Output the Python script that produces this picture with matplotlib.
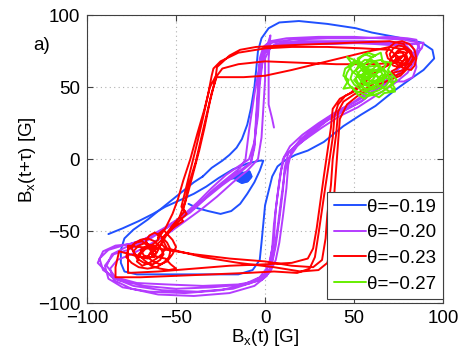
import numpy as np
import matplotlib
matplotlib.use("Agg")
import matplotlib.pyplot as plt

plt.rcParams["font.family"] = ["Liberation Sans", "DejaVu Sans"]
plt.rcParams["axes.unicode_minus"] = True

# theta = -0.19  (blue): big loop, start line + inner loop, small blob
blue_loop = [(-35, -12), (-40, -16), (-48, -24), (-57, -33), (-66, -42), (-74, -49), (-79, -55),
             (-81, -63), (-81, -72), (-79, -78), (-72, -80), (-55, -80), (-35, -80), (-15, -80),
             (-7, -77), (-3, -70), (-2, -58), (-1, -45), (0, -32), (2, -22), (4, -12), (7, -5),
             (11, -1), (17, 3), (24, 6), (33, 12), (44, 23), (54, 31), (62, 37), (73, 48),
             (82, 56), (89, 62), (95, 70), (94, 76), (88, 81), (73, 85), (60, 88), (51, 91),
             (35, 94), (19, 96), (8, 95), (2, 91), (-2, 84), (-4, 75), (-5, 62), (-6, 50),
             (-8, 35), (-10, 24), (-13, 14), (-16, 8), (-20, 3), (-24, -1), (-30, -6), (-35, -12)]
blue_inner = [(-88, -52), (-80, -48), (-71, -43), (-63, -38), (-56, -33), (-47, -28), (-40, -24),
              (-33, -19), (-26, -13), (-18, -7), (-10, -3), (-3, -1), (-1, -1), (-3, -8), (-6, -16),
              (-10, -24), (-14, -31), (-19, -36), (-25, -38), (-32, -36), (-38, -34), (-43, -31)]
blue_blob = [(-19, -13), (-17, -12), (-15, -9), (-12, -10), (-9, -9), (-8, -12), (-10, -15),
             (-13, -16), (-16, -14), (-14, -11), (-11, -10), (-9, -13), (-12, -14), (-15, -12),
             (-13, -12), (-10, -11), (-12, -13)]

# theta = -0.20  (purple)
purple_xy = [(-4, 50), (-3, 70), (-1, 78), (3, 82), (12, 84), (30, 85), (50, 85), (65, 84), (78, 83),
             (86, 81), (87, 76), (84, 68), (80, 60), (72, 52), (62, 44), (52, 36), (42, 30), (32, 22),
             (24, 15), (16, 8), (11, 2), (9, -8), (7, -25), (5, -45), (4, -62), (2, -74), (-3, -82),
             (-12, -87), (-30, -89), (-50, -90), (-68, -88), (-82, -84), (-91, -77), (-93, -69),
             (-88, -63), (-80, -60), (-70, -57), (-60, -51), (-50, -43), (-40, -34), (-31, -24),
             (-22, -15), (-14, -8), (-8, -2), (-6, 10), (-5, 30), (-4, 50),
             (-3, 65), (0, 76), (6, 80), (20, 82), (40, 82), (60, 82), (75, 81), (84, 80), (89, 81),
             (88, 77), (83, 71), (76, 64), (68, 55), (58, 47), (50, 40), (40, 33), (30, 25), (21, 17),
             (14, 9), (10, 0), (8, -15), (6, -35), (5, -55), (3, -70), (0, -80), (-8, -86), (-25, -91),
             (-45, -93), (-65, -92), (-80, -89), (-88, -83), (-90, -74), (-85, -66), (-77, -63),
             (-68, -58), (-58, -50), (-47, -41), (-38, -32), (-29, -21), (-20, -12), (-14, -6),
             (-11, 0), (-9, 20), (-6, 45), (-3, 66),
             (-1, 76), (4, 81), (15, 83), (35, 84), (55, 84), (70, 85), (80, 84), (85, 83), (86, 78),
             (84, 70), (79, 63), (71, 56), (63, 49), (55, 41), (46, 35), (36, 28), (27, 20), (19, 12),
             (13, 4), (11, -6), (10, -22), (8, -42), (6, -60), (4, -72), (1, -81), (-6, -88),
             (-20, -93), (-40, -95), (-60, -94), (-75, -90), (-85, -84), (-87, -76), (-83, -70),
             (-75, -66), (-66, -60), (-56, -53), (-46, -44), (-36, -35), (-27, -26), (-18, -16),
             (-10, -8), (-4, 0), (-2, 15), (-1, 35), (0, 55),
             (0, 70), (3, 78), (10, 81), (25, 81), (45, 81), (62, 80), (74, 79), (82, 80), (84, 75),
             (80, 66), (74, 58), (66, 52), (58, 45), (48, 38), (38, 31), (29, 23), (20, 14), (15, 6),
             (13, -4), (12, -20), (10, -40), (8, -58), (6, -70), (3, -78), (-2, -84), (-15, -87),
             (-35, -88), (-55, -87), (-72, -86), (-84, -82), (-89, -74), (-86, -66), (-78, -61),
             (-70, -58), (-61, -52), (-52, -45), (-42, -37), (-33, -27), (-24, -18), (-15, -10),
             (-8, -3), (-6, 8), (-5, 25), (-4, 45), (-2, 65),
             (0, 74), (5, 79), (18, 80), (38, 80), (58, 81), (72, 80), (80, 78), (84, 72), (85, 64),
             (83, 57), (78, 54), (70, 54), (62, 48), (54, 40), (45, 34), (35, 27), (26, 18), (18, 9),
             (13, 0), (11, -10), (9, -28), (7, -48), (5, -64), (3, -76), (-3, -84), (-18, -90),
             (-38, -92), (-58, -91), (-74, -88), (-86, -82), (-94, -72), (-91, -64), (-84, -60),
             (-76, -59), (-67, -55), (-57, -48), (-47, -40), (-38, -30), (-30, -20), (-22, -11),
             (-15, -5), (-9, 0), (-6, 12), (-4, 30), (-3, 52), (-1, 72), (2, 82), (3, 86), (2, 70),
             (2, 55), (2, 38), (4, 28), (5, 22)]

# theta = -0.23  (red): scribble clusters at both corners joined by square-ish loops
red_left = [(-62, -63), (-66, -60), (-70, -63), (-68, -67), (-64, -68), (-61, -65), (-63, -61),
            (-67, -58), (-71, -60), (-74, -64), (-72, -69), (-68, -72), (-63, -73), (-59, -70),
            (-57, -66), (-59, -61), (-62, -57), (-66, -55), (-70, -56), (-74, -59), (-77, -63),
            (-78, -68), (-75, -72), (-71, -75), (-66, -76), (-61, -75), (-57, -72), (-54, -68),
            (-53, -63), (-55, -58), (-58, -54), (-62, -51), (-65, -53), (-67, -57), (-65, -61),
            (-62, -60), (-60, -63), (-62, -67), (-66, -69), (-70, -68), (-73, -66), (-75, -62),
            (-73, -58), (-69, -57), (-66, -60), (-64, -64), (-66, -68), (-63, -71), (-59, -73),
            (-55, -71), (-52, -66), (-50, -61), (-52, -56), (-55, -52), (-57, -49), (-60, -52),
            (-60, -56), (-63, -59), (-67, -62), (-70, -66), (-72, -71), (-69, -74), (-65, -72),
            (-61, -69), (-58, -66), (-56, -62), (-58, -59), (-61, -62), (-64, -66), (-60, -68),
            (-56, -69), (-53, -73), (-50, -76), (-54, -77), (-59, -76), (-64, -74), (-68, -70),
            (-71, -66), (-68, -62), (-64, -62)]
red_right = [(74, 70), (77, 68), (80, 70), (79, 74), (76, 75), (73, 73), (74, 69), (77, 65), (81, 66),
             (83, 70), (82, 75), (79, 78), (75, 79), (72, 77), (70, 73), (71, 69), (74, 66), (78, 63),
             (82, 62), (84, 65), (85, 70), (84, 76), (81, 80), (77, 82), (73, 81), (70, 78), (68, 74),
             (69, 70), (72, 68), (75, 71), (78, 72), (80, 69), (78, 66), (75, 64), (72, 65), (70, 68),
             (72, 72), (75, 76), (78, 77), (81, 75), (82, 72), (80, 67), (77, 60), (73, 58), (71, 61),
             (74, 63), (77, 67), (79, 71), (77, 74), (74, 74), (72, 71)]
red_loops = [(-62, -68), (-70, -68), (-82, -64), (-84, -75), (-84, -82), (-70, -82), (-50, -81),
             (-30, -80), (-10, -79), (5, -78), (18, -79), (25, -76), (28, -68), (30, -52), (32, -35),
             (34, -18), (36, -2), (38, 15), (39, 30), (41, 38), (45, 44), (50, 47), (55, 52), (62, 60),
             (70, 66), (76, 70), (70, 76), (55, 77), (35, 78), (15, 78), (0, 77), (-15, 74), (-25, 68),
             (-29, 63), (-30, 58), (-32, 45), (-35, 28), (-38, 12), (-41, -3), (-44, -18), (-47, -33),
             (-45, -36), (-52, -46), (-58, -56), (-63, -62),
             (-77, -60), (-77, -70), (-77, -79), (-60, -78), (-40, -76), (-20, -74), (0, -73), (15, -72),
             (24, -69), (27, -62), (29, -48), (31, -30), (33, -12), (35, 5), (37, 22), (38, 35), (42, 42),
             (48, 46), (56, 55), (66, 64), (74, 68), (80, 74), (78, 80), (70, 82), (50, 81), (30, 80),
             (10, 79), (-5, 78), (-14, 76), (-20, 72), (-27, 64), (-28, 55), (-31, 40), (-34, 22),
             (-37, 6), (-40, -8), (-43, -22), (-46, -35), (-44, -38), (-50, -45), (-55, -52),
             (-60, -62), (-40, -66), (-20, -69), (0, -71), (15, -74), (27, -75), (32, -70), (34, -55),
             (35, -38), (37, -18), (38, 0), (40, 18), (41, 33), (44, 40), (50, 45), (58, 50), (65, 56),
             (72, 60), (78, 62), (82, 66), (75, 67), (60, 66), (40, 66), (20, 67), (0, 68), (-15, 66),
             (-24, 63), (-27, 58), (-30, 46), (-33, 30), (-36, 14), (-39, -2), (-43, -18), (-45, -30),
             (-48, -40), (-46, -43), (-52, -48), (-58, -55),
             (-55, -62), (-35, -68), (-15, -72), (5, -75), (20, -78), (30, -77), (35, -72), (37, -60),
             (38, -42), (39, -22), (40, -5), (41, 12), (42, 28), (46, 38), (52, 44), (60, 50), (70, 55),
             (76, 58), (80, 63), (84, 70), (80, 76), (70, 78), (55, 74), (35, 68), (15, 62), (0, 58),
             (-12, 57), (-22, 57), (-28, 57), (-31, 50), (-34, 35), (-38, 18), (-42, 0), (-46, -15),
             (-49, -28), (-52, -38), (-56, -48), (-60, -55)]

# theta = -0.27  (green): noisy cluster only
green_xy = [(58, 56), (61, 59), (64, 57), (62, 53), (58, 52), (55, 55), (56, 60), (60, 62), (65, 61),
            (67, 57), (66, 52), (62, 49), (57, 48), (53, 51), (51, 56), (53, 61), (57, 64), (62, 65),
            (66, 63), (69, 60), (70, 55), (68, 51), (64, 48), (60, 46), (56, 47), (53, 49), (50, 52),
            (48, 56), (49, 60), (52, 63), (55, 66), (59, 68), (63, 67), (65, 64), (63, 60), (60, 58),
            (57, 59), (55, 62), (56, 66), (59, 70), (62, 72), (58, 74), (54, 71), (51, 67), (48, 64),
            (46, 60), (45, 56), (47, 52), (50, 48), (54, 46), (58, 44), (62, 45), (66, 47), (69, 50),
            (72, 53), (71, 57), (68, 59), (65, 58), (63, 55), (60, 54), (57, 56), (55, 59), (52, 58),
            (50, 55), (52, 52), (55, 51), (58, 53), (61, 56), (63, 60), (66, 62), (68, 66), (65, 69),
            (61, 68), (58, 65), (56, 61), (54, 57), (56, 53), (59, 50), (62, 51), (64, 54), (66, 57),
            (69, 56), (71, 53), (73, 49), (70, 47), (66, 50), (63, 52), (60, 50), (57, 51), (54, 54),
            (52, 58), (49, 61), (47, 65), (50, 68), (53, 65), (55, 61), (58, 59), (61, 61), (64, 63),
            (67, 61), (68, 57), (65, 54), (61, 53), (58, 55), (56, 58), (58, 61), (61, 63), (63, 66),
            (60, 69), (56, 69), (53, 66), (51, 62), (53, 58), (56, 55), (59, 57), (62, 58), (65, 56),
            (63, 52), (60, 49), (56, 49), (53, 52), (55, 56), (59, 58), (60, 62), (57, 63),
            (52, 68), (46, 71), (49, 66), (45, 63), (44, 58), (47, 55), (44, 49), (49, 50), (52, 45),
            (56, 42), (59, 46), (64, 43), (67, 46), (73, 47), (70, 51), (74, 55), (69, 62), (71, 67),
            (66, 68), (65, 74), (60, 71), (56, 73), (52, 70), (55, 64), (59, 60)]

legend_labels = ["θ=−0.19", "θ=−0.20", "θ=−0.23", "θ=−0.27"]
colors = ["#2050ff", "#b43cff", "#ff0000", "#66ee00"]


def xy(pts):
    a = np.array(pts, dtype=float)
    return a[:, 0], a[:, 1]


fig = plt.figure(figsize=(4.63, 3.55), dpi=100)
ax = fig.add_axes([0.188, 0.146, 0.769, 0.811])

lw = 1.4
kw = dict(lw=lw, solid_joinstyle="round", solid_capstyle="round")
x, y = xy(blue_loop)
ax.plot(x, y, color=colors[0], label=legend_labels[0], **kw)
x, y = xy(blue_inner)
ax.plot(x, y, color=colors[0], **kw)
x, y = xy(blue_blob)
ax.fill(x, y, color=colors[0], lw=2)
ax.plot(x, y, color=colors[0], lw=2.5)

x, y = xy(purple_xy)
ax.plot(x, y, color=colors[1], label=legend_labels[1], **kw)

x, y = xy(red_left + red_loops)
ax.plot(x, y, color=colors[2], label=legend_labels[2], **kw)
x, y = xy(red_right)
ax.plot(x, y, color=colors[2], **kw)

x, y = xy(green_xy)
ax.plot(x, y, color=colors[3], label=legend_labels[3], **kw)

ax.set_xlim(-100, 100)
ax.set_ylim(-100, 100)
ax.set_xticks([-100, -50, 0, 50, 100])
ax.set_yticks([-100, -50, 0, 50, 100])
ax.grid(True, color="#b0b0b0", linestyle=(0, (1, 3)), lw=0.8)
ax.tick_params(direction="in", length=4, labelsize=13.5, top=True, right=True,
               color="#404040", pad=5)
for s in ax.spines.values():
    s.set_color("#404040")
    s.set_linewidth(0.8)

ax.set_xlabel("B$_\\mathregular{x}$(t) [G]", fontsize=13.5, labelpad=0)
ax.set_ylabel("B$_\\mathregular{x}$(t+τ) [G]", fontsize=13.5, labelpad=0)
fig.text(0.072, 0.873, "a)", fontsize=13.5, va="center")

leg = ax.legend(loc="lower right", bbox_to_anchor=(1.0, 0.014), borderaxespad=0,
                fontsize=13.5, fancybox=False, framealpha=1, edgecolor="#404040",
                handlelength=1.7, handletextpad=0.1, labelspacing=0.45, borderpad=0.35)
leg.get_frame().set_linewidth(0.8)

fig.savefig("out.png", dpi=100)
